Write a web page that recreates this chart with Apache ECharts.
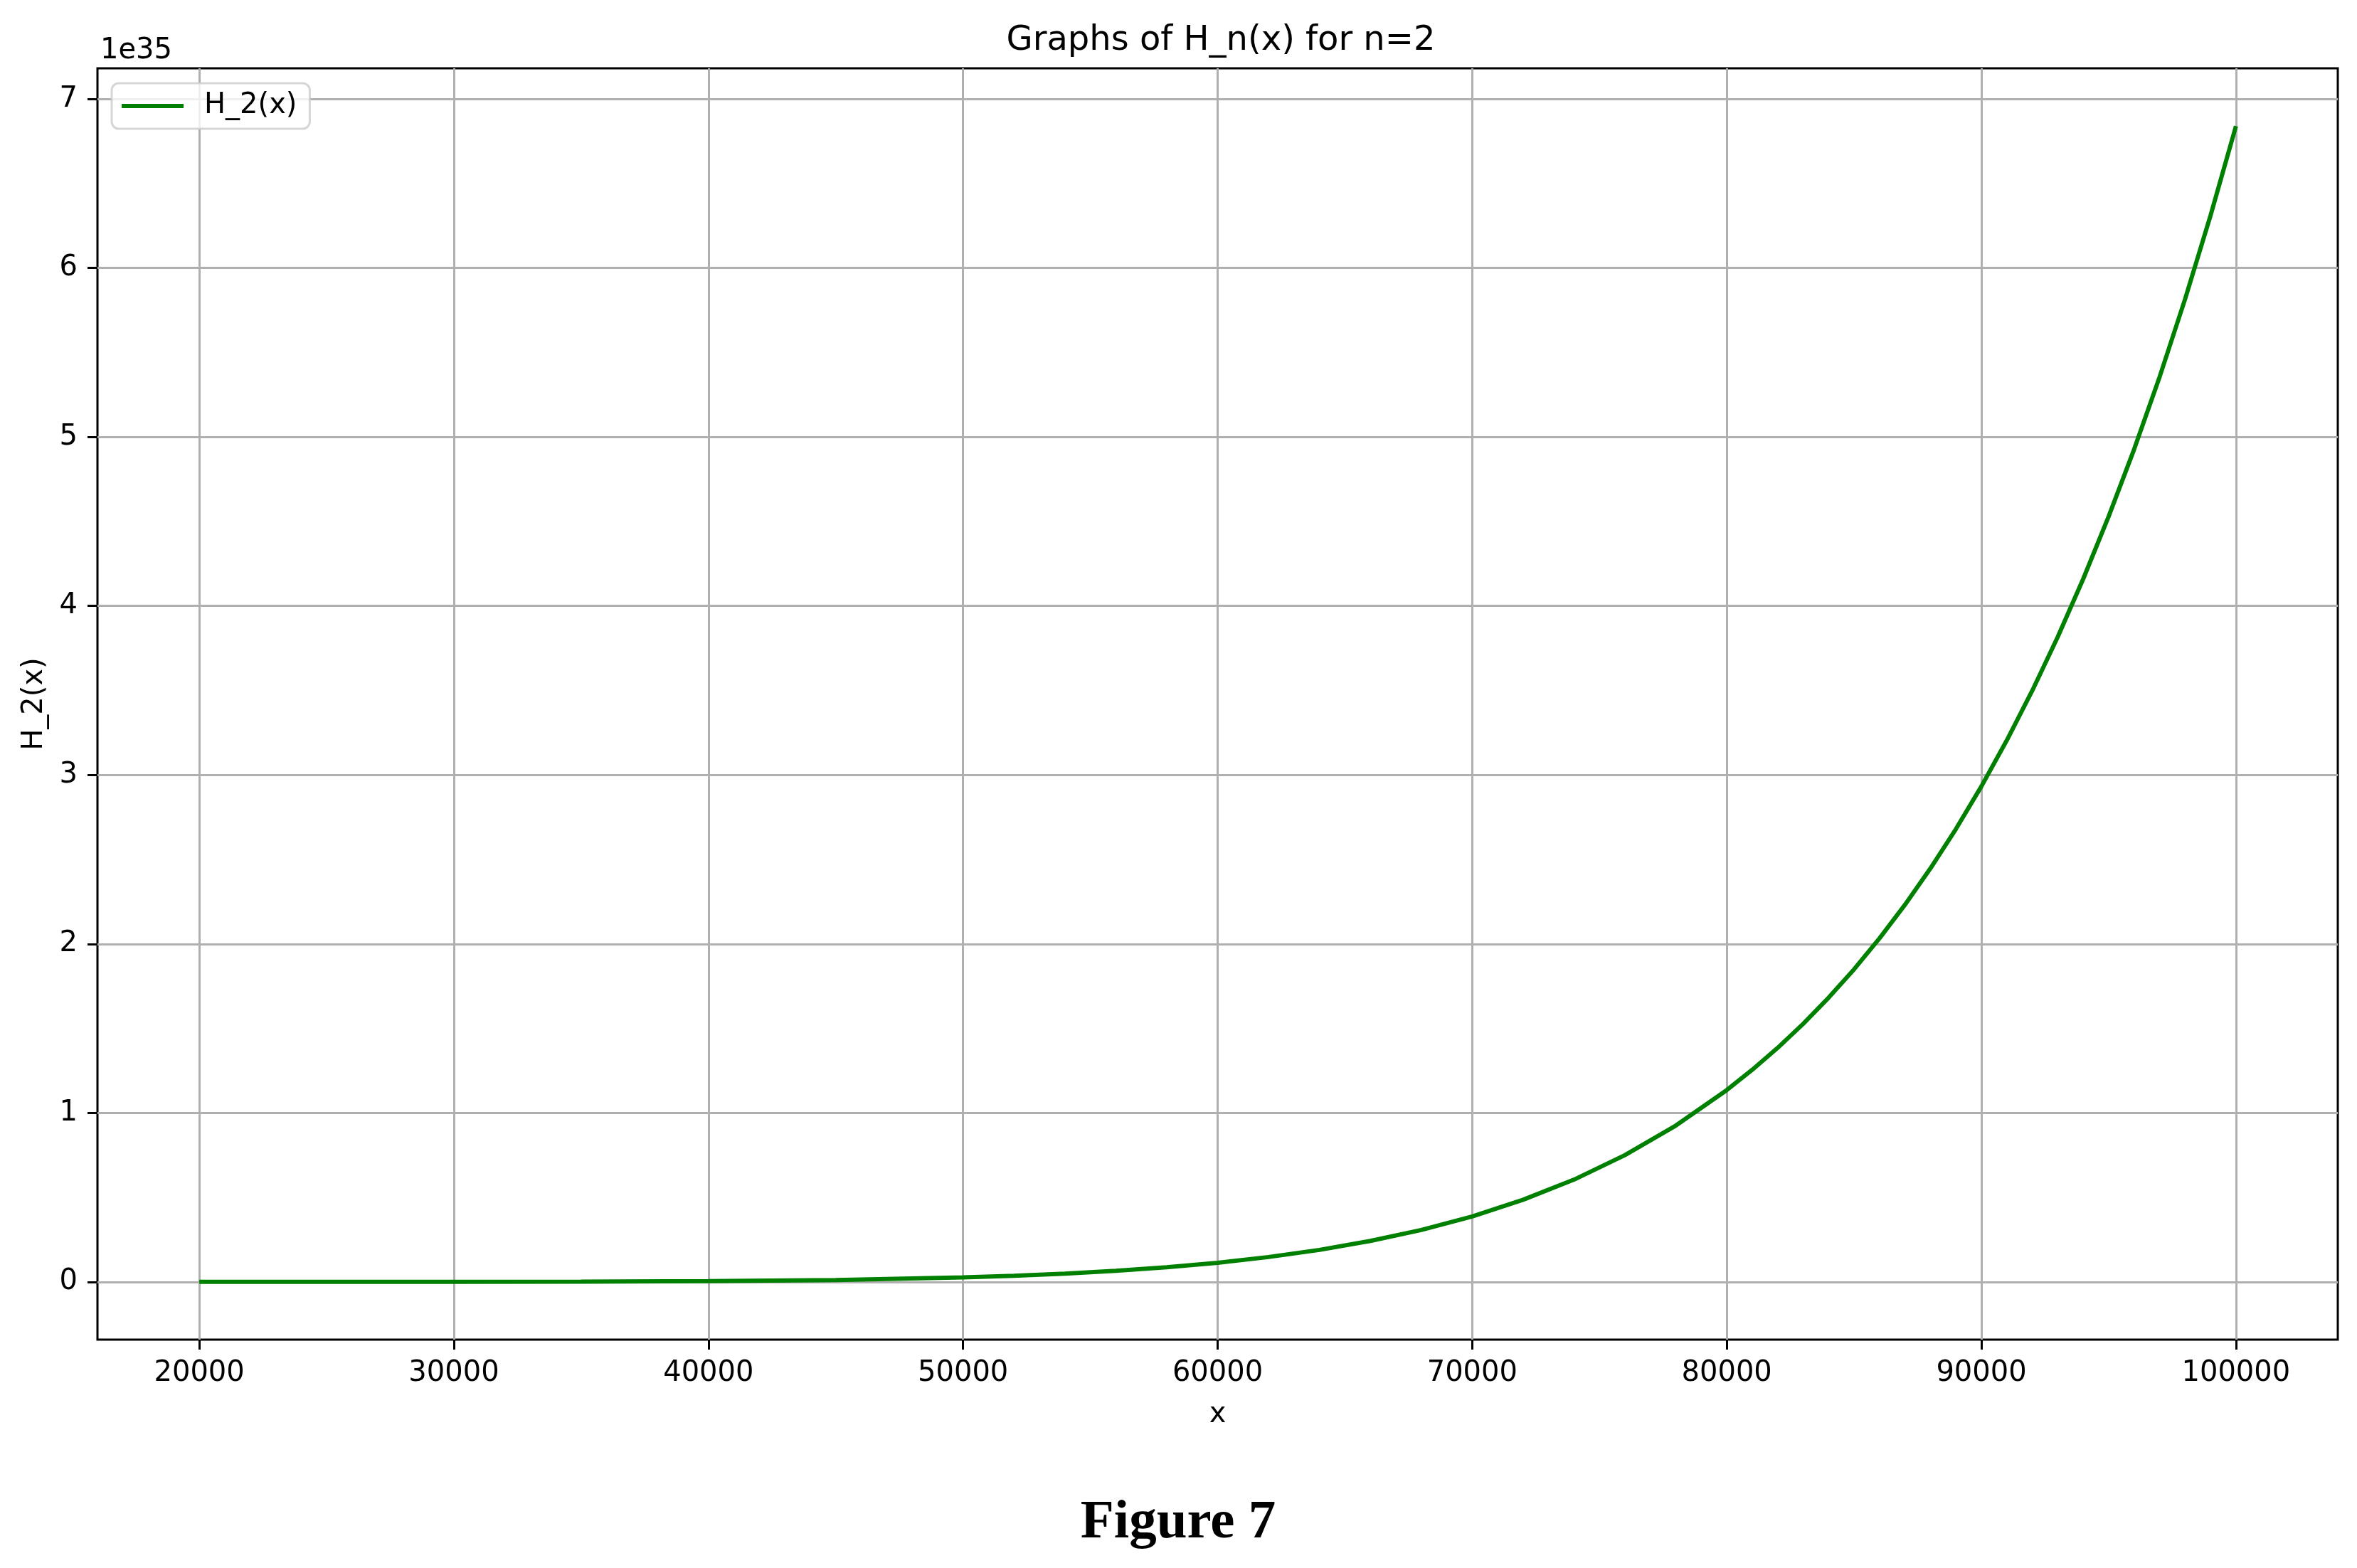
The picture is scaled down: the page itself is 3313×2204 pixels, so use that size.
<!DOCTYPE html>
<html>
<head>
<meta charset="utf-8">
<script src="https://cdn.jsdelivr.net/npm/echarts@6/dist/echarts.min.js"></script>
<style>
  html, body { margin: 0; padding: 0; background: #ffffff; }
  #chart { width: 3313px; height: 2204px; }
</style>
</head>
<body>
<div id="chart"></div>
<script>
// ---- Data ----
const seriesName = 'H_2(x)';
// x positions of the samples
const xValues = [
  20000, 25000, 30000, 35000, 40000, 45000, 50000,
  52000, 54000, 56000, 58000, 60000, 62000, 64000, 66000, 68000, 70000,
  72000, 74000, 76000, 78000, 80000,
  81000, 82000, 83000, 84000, 85000, 86000, 87000, 88000, 89000, 90000,
  91000, 92000, 93000, 94000, 95000, 96000, 97000, 98000, 99000, 100000
];
// H_2(x) in units of 1e35 (axis offset label "1e35")
const hValues = [
  0.00002, 0.0001, 0.0004, 0.0015, 0.0045, 0.011, 0.026,
  0.036, 0.049, 0.065, 0.086, 0.113, 0.147, 0.189, 0.242, 0.307, 0.387,
  0.486, 0.605, 0.750, 0.925, 1.135,
  1.255, 1.385, 1.527, 1.682, 1.850, 2.033, 2.232, 2.447, 2.680, 2.932,
  3.205, 3.499, 3.817, 4.160, 4.530, 4.927, 5.355, 5.815, 6.310, 6.840
];
const xTicks = [20000, 30000, 40000, 50000, 60000, 70000, 80000, 90000, 100000];
const yTicks = [0, 1, 2, 3, 4, 5, 6, 7];
const titleText = 'Graphs of H_n(x) for n=2';
const xName = 'x';
const yName = 'H_2(x)';
const offsetText = '1e35';
const captionText = 'Figure 7';

// ---- Chart ----
const FONT = 'DejaVu Sans';
const chart = echarts.init(document.getElementById('chart'), null, { renderer: 'canvas' });
const points = xValues.map((x, i) => [x, hValues[i]]);

chart.setOption({
  animation: false,
  backgroundColor: '#ffffff',
  title: {
    text: titleText,
    left: 1711,
    top: 29,
    textAlign: 'center',
    textStyle: { fontFamily: FONT, fontSize: 48, fontWeight: 'normal', color: '#000' }
  },
  grid: {
    left: 137, top: 96, width: 3149, height: 1787,
    show: true, borderColor: '#000', borderWidth: 3, backgroundColor: 'transparent',
    containLabel: false
  },
  legend: {
    left: 157, top: 117,
    orient: 'vertical',
    padding: [12, 18, 12, 14],
    icon: 'rect',
    itemWidth: 87, itemHeight: 6,
    data: [seriesName],
    textStyle: { fontFamily: FONT, fontSize: 40, color: '#000', padding: [0, 0, 0, 24] },
    backgroundColor: 'rgba(255,255,255,0.8)',
    borderColor: 'rgba(204,204,204,0.8)',
    borderWidth: 3,
    borderRadius: 10
  },
  xAxis: {
    type: 'value',
    min: 16000, max: 104000,
    name: xName,
    nameLocation: 'middle',
    nameGap: 86,
    nameTextStyle: { fontFamily: FONT, fontSize: 40, color: '#000' },
    axisLine: { show: false, onZero: false },
    axisTick: { show: true, customValues: xTicks, length: 14, lineStyle: { color: '#000', width: 3 } },
    axisLabel: {
      customValues: xTicks, margin: 28, fontFamily: FONT, fontSize: 40, color: '#000',
      formatter: v => String(v)
    },
    splitLine: { show: true, lineStyle: { color: '#b0b0b0', width: 3 } }
  },
  yAxis: {
    type: 'value',
    min: -0.342, max: 7.182,
    name: yName,
    nameLocation: 'middle',
    nameRotate: 90,
    nameGap: 68,
    nameTextStyle: { fontFamily: FONT, fontSize: 40, color: '#000' },
    axisLine: { show: false, onZero: false },
    axisTick: { show: true, customValues: yTicks, length: 14, lineStyle: { color: '#000', width: 3 } },
    axisLabel: {
      customValues: yTicks, margin: 28, fontFamily: FONT, fontSize: 40, color: '#000',
      formatter: v => String(v)
    },
    splitLine: { show: true, lineStyle: { color: '#b0b0b0', width: 3 } }
  },
  graphic: [
    {
      type: 'text', left: 141, top: 52,
      style: { text: offsetText, font: '40px "DejaVu Sans"', fill: '#000' }
    },
    {
      type: 'text', x: 1656, y: 2141,
      style: {
        text: captionText, font: 'bold 77px "Liberation Serif"', fill: '#000',
        textAlign: 'center', textVerticalAlign: 'middle'
      }
    }
  ],
  series: [{
    name: seriesName,
    type: 'line',
    data: points,
    showSymbol: false,
    smooth: false,
    color: '#008000',
    lineStyle: { color: '#008000', width: 6 },
    z: 3
  }]
});
</script>
</body>
</html>
